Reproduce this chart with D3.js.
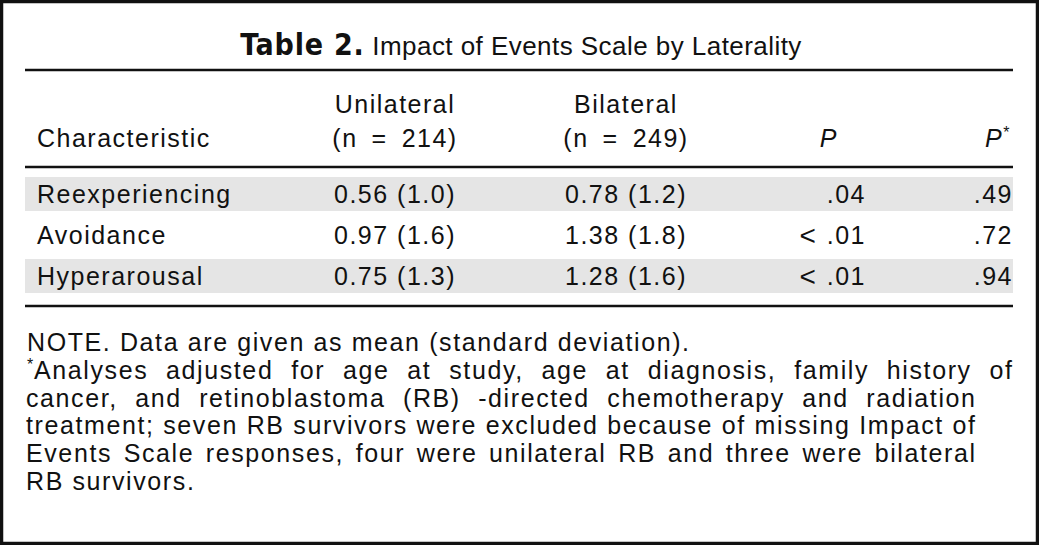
<!DOCTYPE html>
<html>
<head>
<meta charset="utf-8">
<script src="https://cdn.jsdelivr.net/npm/d3@7"></script>
<style>
  html, body { margin: 0; padding: 0; background: #fff; }
  svg { display: block; }
  text { font-family: "Liberation Sans", Arial, Helvetica, sans-serif; fill: #111; }
</style>
</head>
<body>
<svg id="chart" width="1039" height="545"></svg>
<script>
// ---- data ----
const titleBold = "Table 2.";
const titleRest = " Impact of Events Scale by Laterality";
const characteristics = ["Reexperiencing", "Avoidance", "Hyperarousal"];
const unilateralMean = [0.56, 0.97, 0.75];
const unilateralSD = [1.0, 1.6, 1.3];
const bilateralMean = [0.78, 1.38, 1.28];
const bilateralSD = [1.2, 1.8, 1.6];
const pPrefix = ["", "<", "<"];
const pNumbers = [".04", ".01", ".01"];
const pAdjusted = [".49", ".72", ".94"];
const groupNames = ["Unilateral", "Bilateral"];
const groupN = [214, 249];
const noteLines = [
  "NOTE. Data are given as mean (standard deviation).",
  "Analyses adjusted for age at study, age at diagnosis, family history of",
  "cancer, and retinoblastoma (RB) -directed chemotherapy and radiation",
  "treatment; seven RB survivors were excluded because of missing Impact of",
  "Events Scale responses, four were unilateral RB and three were bilateral",
  "RB survivors."
];

// ---- layout ----
const W = 1039, H = 545;
const svg = d3.select("#chart");
const FS = 25, LS = 1.5;
const ruleX0 = 25, ruleX1 = 1013;
const EN = "\u2002";

// frame
svg.append("rect").attr("x", 1.5).attr("y", 1.5).attr("width", W - 3).attr("height", H - 3)
  .attr("fill", "#fff").attr("stroke", "#111").attr("stroke-width", 3.5);

// title
const title = svg.append("text").attr("x", 521).attr("y", 55).attr("text-anchor", "middle")
  .style("font-size", "26px").style("letter-spacing", "0.45px");
title.append("tspan").text(titleBold)
  .style("font-family", "'Liberation Sans Narrow', 'DejaVu Sans Condensed', sans-serif")
  .style("font-weight", "bold").style("font-size", "30px").style("letter-spacing", "0.8px");
title.append("tspan").text(titleRest);

// rules
const rules = [70, 167, 306];
svg.selectAll("line.rule").data(rules).join("line").attr("class", "rule")
  .attr("x1", ruleX0).attr("x2", ruleX1).attr("y1", d => d).attr("y2", d => d)
  .attr("stroke", "#111").attr("stroke-width", 2.5);

// row scale
const y = d3.scaleBand().domain(characteristics).range([177, 293]).paddingInner(7 / 41).paddingOuter(0);

// shaded bands (1st and 3rd)
svg.selectAll("rect.band").data(characteristics.filter((d, i) => i % 2 === 0)).join("rect")
  .attr("class", "band")
  .attr("x", ruleX0).attr("width", ruleX1 - ruleX0)
  .attr("y", d => y(d)).attr("height", y.bandwidth())
  .attr("fill", "#e5e5e5");

// columns
const colCenter = { uni: 395, bi: 626 };
const colRight = { p: 866, padj: 1013 };
const base = d => y(d) + y.bandwidth() / 2 + 9;
const txt = (x, yy, s, anchor) => svg.append("text").attr("x", x).attr("y", yy)
  .attr("text-anchor", anchor || "start").style("font-size", FS + "px").style("letter-spacing", LS + "px").text(s);

// header
txt(37, 147, "Characteristic");
groupNames.forEach((g, i) => {
  const cx = i === 0 ? colCenter.uni : colCenter.bi;
  txt(cx, 113, g, "middle");
  txt(cx, 147, "(n" + EN + "=" + EN + groupN[i] + ")", "middle");
});
txt(838, 147, "P", "end").style("font-style", "italic");
const ph = txt(1011, 147, "", "end");
ph.append("tspan").style("font-style", "italic").text("P");
ph.append("tspan").attr("dy", -9).style("font-size", "16px").text("*");

// body
const fmt = d3.format(".2f"), fmt1 = d3.format(".1f");
characteristics.forEach((c, i) => {
  txt(37, base(c), c);
  txt(colCenter.uni, base(c), fmt(unilateralMean[i]) + " (" + fmt1(unilateralSD[i]) + ")", "middle");
  txt(colCenter.bi, base(c), fmt(bilateralMean[i]) + " (" + fmt1(bilateralSD[i]) + ")", "middle");
  const pt = txt(colRight.p, base(c), "", "end");
  if (pPrefix[i]) pt.append("tspan").style("font-size", "28px").attr("dy", 1).text(pPrefix[i] + " ");
  pt.append("tspan").attr("dy", pPrefix[i] ? -1 : 0).text(pNumbers[i]);
  txt(colRight.padj, base(c), pAdjusted[i], "end");
});

// notes with word justification
const NFS = 25, NLS = 1.6;
const noteBase = [351, 379, 407, 434, 462, 490];
const noteX = [27, 34, 26, 26, 26, 26];
const noteRight = [null, 1012, 975, 975, 975, null];
svg.append("text").attr("x", 27).attr("y", noteBase[1] - 9).style("font-size", "16px").text("*");
noteLines.forEach((line, li) => {
  const words = line.split(" ");
  const g = svg.append("g").style("font-size", NFS + "px").style("letter-spacing", NLS + "px");
  const nodes = words.map(w => g.append("text").attr("y", noteBase[li]).text(w));
  const widths = nodes.map(n => n.node().getComputedTextLength());
  const t1 = g.append("text").text("a a"), t2 = g.append("text").text("aa");
  const spaceW = t1.node().getComputedTextLength() - t2.node().getComputedTextLength();
  t1.remove(); t2.remove();
  const total = d3.sum(widths);
  let gap = spaceW;
  if (noteRight[li] !== null && words.length > 1) gap = (noteRight[li] + NLS - noteX[li] - total) / (words.length - 1);
  let x = noteX[li];
  nodes.forEach((n, k) => { n.attr("x", x); x += widths[k] + gap; });
});
</script>
</body>
</html>
